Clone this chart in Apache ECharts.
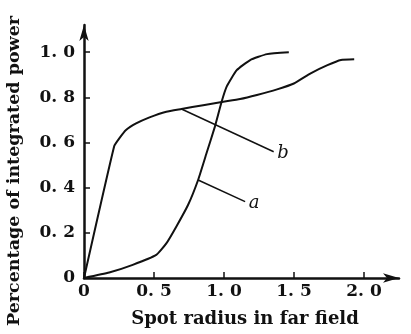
<!DOCTYPE html>
<html>
<head>
<meta charset="utf-8">
<style>
  html, body { margin: 0; padding: 0; background: #fff; }
  #chart { width: 411px; height: 334px; }
</style>
<script src="https://cdn.jsdelivr.net/npm/echarts@6/dist/echarts.min.js"></script>
</head>
<body>
<div id="chart"></div>
<script>
// curve a: slow start, steep S-rise around r = 1.0
var curveA = [
  [0, 0], [0.18, 0.024], [0.348, 0.058], [0.516, 0.102], [0.588, 0.153],
  [0.659, 0.227], [0.743, 0.323], [0.815, 0.434], [0.875, 0.552],
  [0.935, 0.67], [0.983, 0.78], [1.019, 0.847], [1.091, 0.92],
  [1.187, 0.965], [1.307, 0.991], [1.463, 0.999]
]
// curve b: fast rise to 0.6, then slow climb
var curveB = [
  [0, 0], [0.216, 0.584], [0.252, 0.618], [0.3, 0.655], [0.372, 0.684],
  [0.468, 0.711], [0.588, 0.736], [0.696, 0.748], [0.851, 0.765],
  [0.995, 0.78], [1.115, 0.792], [1.235, 0.81], [1.379, 0.835],
  [1.499, 0.861], [1.619, 0.906], [1.739, 0.942], [1.835, 0.965],
  [1.93, 0.968]
]
// leader lines for the curve labels
var leaderA = [[0.815, 0.434], [1.151, 0.338]]
var leaderB = [[0.696, 0.748], [1.355, 0.559]]

var xTicks = [0, 0.5, 1.0, 1.5, 2.0]
var xTickLabels = ['0', '0. 5', '1. 0', '1. 5', '2. 0']
var yTicks = [0, 0.2, 0.4, 0.6, 0.8, 1.0]
var yTickLabels = ['0', '0. 2', '0. 4', '0. 6', '0. 8', '1. 0']

var serif = 'DejaVu Serif'
var ink = '#111'

function leader(points, text) {
  return {
    silent: true,
    symbol: 'none',
    lineStyle: { color: ink, width: 1.5, type: 'solid' },
    label: {
      show: true,
      position: 'end',
      distance: 4,
      formatter: text,
      color: ink,
      fontFamily: serif,
      fontStyle: 'italic',
      fontSize: 18
    },
    data: [[{ coord: points[0] }, { coord: points[1] }]]
  }
}

var chart = echarts.init(document.getElementById('chart'))
chart.setOption({
  animation: false,
  grid: {
    left: 84,
    right: 12,
    top: 25,
    bottom: 56,
    outerBoundsMode: 'none'
  },
  xAxis: {
    type: 'value',
    min: 0,
    max: 2.25,
    axisLine: {
      lineStyle: { color: ink, width: 2.5 },
      symbol: ['none', 'arrow'],
      symbolSize: [7, 16]
    },
    axisTick: {
      inside: true,
      length: 6,
      lineStyle: { color: ink, width: 1.5 },
      customValues: xTicks
    },
    axisLabel: {
      customValues: xTicks,
      margin: 5,
      color: ink,
      fontFamily: serif,
      fontWeight: 'bold',
      fontSize: 17,
      formatter: function (v) {
        return xTickLabels[xTicks.indexOf(v)]
      }
    },
    splitLine: { show: false },
    name: 'Spot radius in far field',
    nameLocation: 'middle',
    nameGap: 32,
    nameTextStyle: {
      color: ink,
      fontFamily: serif,
      fontWeight: 'bold',
      fontSize: 18,
      padding: [0, 0, 0, 7]
    }
  },
  yAxis: {
    type: 'value',
    min: 0,
    max: 1.12,
    axisLine: {
      lineStyle: { color: ink, width: 2.5 },
      symbol: ['none', 'arrow'],
      symbolSize: [7, 16]
    },
    axisTick: {
      inside: true,
      length: 6,
      lineStyle: { color: ink, width: 1.5 },
      customValues: yTicks
    },
    axisLabel: {
      customValues: yTicks,
      margin: 9,
      color: ink,
      fontFamily: serif,
      fontWeight: 'bold',
      fontSize: 17,
      formatter: function (v) {
        return yTickLabels[yTicks.indexOf(v)]
      }
    },
    splitLine: { show: false }
  },
  graphic: [
    {
      type: 'text',
      x: 14,
      y: 171,
      rotation: Math.PI / 2,
      style: {
        text: 'Percentage of integrated power',
        fill: ink,
        font: 'bold 17.5px "DejaVu Serif"',
        textAlign: 'center',
        textVerticalAlign: 'middle'
      }
    }
  ],
  series: [
    {
      name: 'a',
      type: 'line',
      data: curveA,
      smooth: 0.15,
      symbol: 'none',
      lineStyle: { color: ink, width: 2 },
      markLine: leader(leaderA, 'a')
    },
    {
      name: 'b',
      type: 'line',
      data: curveB,
      smooth: 0.15,
      symbol: 'none',
      lineStyle: { color: ink, width: 2 },
      markLine: leader(leaderB, 'b')
    }
  ]
})
</script>
</body>
</html>
